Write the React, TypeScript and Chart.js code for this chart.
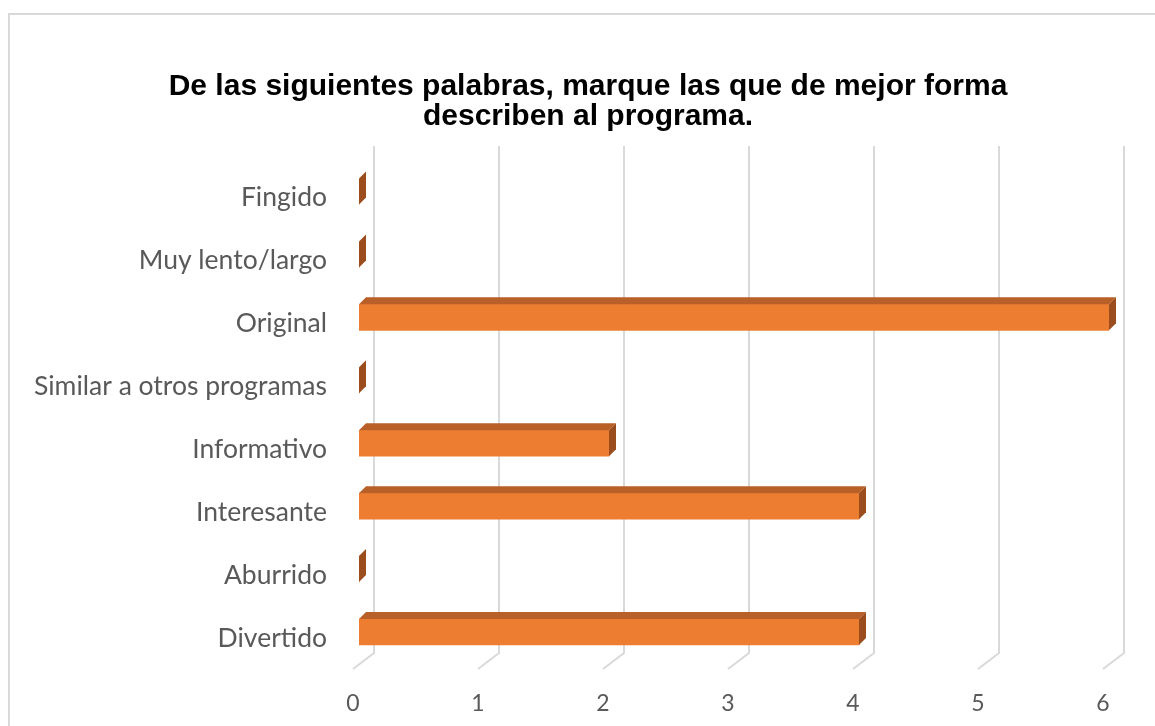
import React, { useEffect, useRef } from "react";
import { Chart, registerables } from "chart.js";

Chart.register(...registerables);

const categories = [
  "Fingido",
  "Muy lento/largo",
  "Original",
  "Similar a otros programas",
  "Informativo",
  "Interesante",
  "Aburrido",
  "Divertido",
];
const values = [0, 0, 6, 0, 2, 4, 0, 4];
const xMin = 0;
const xMax = 6;
const titleLines = [
  "De las siguientes palabras, marque las que de mejor forma",
  "describen al programa.",
];

const DEPTH = 7;
const CANVAS_W = 1176;
const CANVAS_H = 726;

const threeD = {
  id: "threeD",
  beforeDatasetsDraw(chart: any) {
    const { ctx, chartArea, scales } = chart;
    const x = scales.x;
    ctx.save();
    ctx.strokeStyle = "#d9d9d9";
    ctx.lineWidth = 2;
    const top = chartArea.top - 14;
    const bottom = chartArea.bottom - 10.5;
    x.ticks.forEach((t: any) => {
      const px = x.getPixelForValue(t.value);
      ctx.beginPath();
      ctx.moveTo(px + 15, top);
      ctx.lineTo(px + 15, bottom);
      ctx.lineTo(px - 6, bottom + 16);
      ctx.stroke();
    });
    ctx.restore();
  },
  afterDatasetsDraw(chart: any) {
    const { ctx } = chart;
    const meta = chart.getDatasetMeta(0);
    ctx.save();
    meta.data.forEach((bar: any) => {
      const { x, y, base, height } = bar.getProps(["x", "y", "base", "height"], true);
      const t = y - height / 2;
      const b = y + height / 2;
      const d = DEPTH;
      ctx.fillStyle = "#b95f28";
      ctx.beginPath();
      ctx.moveTo(base, t);
      ctx.lineTo(base + d, t - d);
      ctx.lineTo(x + d, t - d);
      ctx.lineTo(x, t);
      ctx.closePath();
      ctx.fill();
      ctx.fillStyle = "#9c4d1d";
      ctx.beginPath();
      ctx.moveTo(x, t);
      ctx.lineTo(x + d, t - d);
      ctx.lineTo(x + d, b - d);
      ctx.lineTo(x, b);
      ctx.closePath();
      ctx.fill();
    });
    ctx.restore();
  },
};

export default function App() {
  const ref = useRef<HTMLCanvasElement>(null);
  useEffect(() => {
    if (!ref.current) return;
    const chart = new Chart(ref.current, {
      type: "bar",
      data: {
        labels: categories,
        datasets: [
          {
            data: values,
            backgroundColor: "#ed7d31",
            borderWidth: 0,
            barThickness: 26,
          },
        ],
      },
      options: {
        indexAxis: "y",
        responsive: false,
        animation: false,
        layout: { padding: { left: 0, right: 0, top: 0, bottom: 0 } },
        plugins: {
          legend: { display: false },
          tooltip: { enabled: false },
          title: {
            display: true,
            text: titleLines,
            color: "#000000",
            font: { family: "'Liberation Sans', Arial, sans-serif", size: 30, weight: "bold", lineHeight: 1.0 },
            padding: { top: 72, bottom: 28 },
          },
        },
        scales: {
          x: {
            min: xMin,
            max: xMax,
            grid: { display: false, drawTicks: false },
            border: { display: false },
            ticks: {
              stepSize: 1,
              labelOffset: -6,
              padding: 26,
              color: "#595959",
              font: { family: "Lato, 'Noto Sans', sans-serif", size: 23 },
            },
            afterFit: (s: any) => {
              s.height = 62.5;
            },
          },
          y: {
            grid: { display: false, drawTicks: false },
            border: { display: false },
            ticks: {
              padding: 32,
              labelOffset: 6,
              color: "#595959",
              font: { family: "Lato, 'Noto Sans', sans-serif", size: 26.5 },
            },
            afterFit: (s: any) => {
              s.width = 359;
            },
          },
          yRight: {
            type: "category",
            position: "right",
            display: true,
            grid: { display: false, drawTicks: false },
            border: { display: false },
            ticks: { display: false },
            afterFit: (s: any) => {
              s.width = CANVAS_W - 1109;
            },
          },
        },
      },
      plugins: [threeD],
    });
    return () => chart.destroy();
  }, []);

  return (
    <div style={{ position: "fixed", left: 0, top: 0, width: 1155, height: 726, background: "#fff", overflow: "hidden" }}>
      <div
        style={{
          position: "absolute",
          left: 8,
          top: 13,
          width: 1200,
          height: 800,
          border: "2px solid #d9d9d9",
        }}
      />
      <canvas
        ref={ref}
        width={CANVAS_W}
        height={CANVAS_H}
        style={{ position: "absolute", left: 0, top: 0, width: CANVAS_W, height: CANVAS_H }}
      />
    </div>
  );
}
